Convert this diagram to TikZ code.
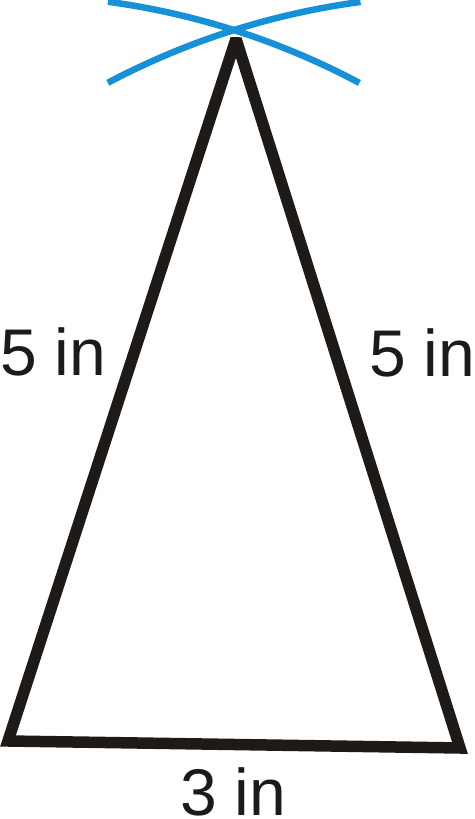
\documentclass[tikz,border=0pt]{standalone}
\usepackage{fontspec}
\setmainfont{Liberation Sans}
\definecolor{arcblue}{RGB}{22,144,214}
\definecolor{edgeblack}{RGB}{30,26,24}
\begin{document}
\begin{tikzpicture}[x=1pt,y=1pt,
  edge/.style={draw=edgeblack,line width=11.5pt,line join=miter,miter limit=2},
  compass/.style={draw=arcblue,line width=6.5pt},
  lbl/.style={inner sep=0pt,outer sep=0pt,anchor=base west,text depth=0pt,text=edgeblack,font=\fontsize{66}{66}\selectfont}]
\useasboundingbox (0,0) rectangle (474,819);
\coordinate (A) at (236,780);
\coordinate (B) at (8,78);
\coordinate (C) at (460,71);
\draw[edge] (A) -- (B) -- (C) -- cycle;
\draw[compass] (B) ++(82.3:746) arc[start angle=82.3,end angle=61.9,radius=746];
\draw[compass] (C) ++(117.9:752.7) arc[start angle=117.9,end angle=97.6,radius=752.7];
\node[lbl] (l) at (0,443) {5 in};
\node[lbl] (r) at (369,442) {5 in};
\node[lbl] (b) at (180,4) {3 in};
\end{tikzpicture}
\end{document}
